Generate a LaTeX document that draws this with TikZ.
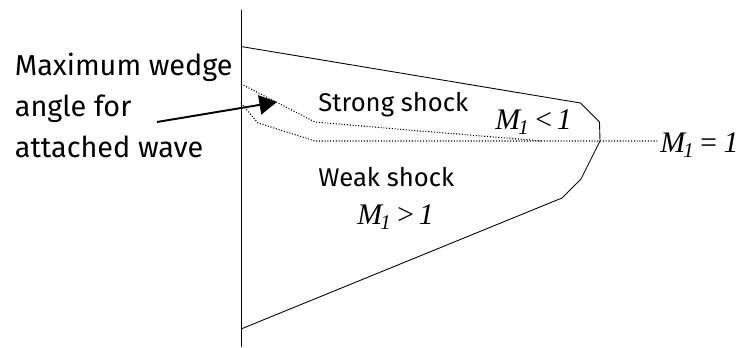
\documentclass[tikz,border=0pt]{standalone}
\usepackage{fontspec}
\setmainfont{Fira Sans}
\newfontfamily\mathserif{Liberation Serif}
\usetikzlibrary{arrows.meta,positioning}
\tikzset{
  bigtext/.style={anchor=base west,inner sep=0pt,font=\fontsize{16.4}{16.4}\selectfont},
  midtext/.style={anchor=base west,inner sep=0pt,font=\fontsize{14.6}{14.6}\selectfont},
  machtext/.style={anchor=base west,inner sep=0pt,font=\mathserif\itshape\fontsize{17}{17}\selectfont},
  sonicline/.style={densely dotted,line width=0.6pt},
  limitline/.style={line width=0.5pt}
}
\newcommand{\machlabel}[1]{M\textsubscript{\kern-1pt 1}\kern2pt#1}
\begin{document}
\begin{tikzpicture}[x=0.02cm,y=-0.02cm]
\useasboundingbox (0,0) rectangle (738,348);
% axis and limit curve
\coordinate (axistop) at (241,10);
\coordinate (axisbottom) at (241,347);
\draw[limitline] (axistop) -- (axisbottom);
\draw[limitline] (241,46.5) -- (580.5,103) -- (599.5,122) -- (600,141) -- (581,179) -- (562,198) -- (241,329);
% sonic lines
\draw[sonicline] (241,84) -- (315,122) -- (420,131) -- (543,141);
\draw[sonicline] (241,103) -- (258,123) -- (315,141) -- (657,141);
% labels
\node[bigtext] (wedgea) at (14.5,76) {Maximum wedge};
\node[bigtext] (wedgeb) at (14.5,117) {angle for};
\node[bigtext] (wedgec) at (14.5,158) {attached wave};
\node[midtext] (strong) at (318,112) {Strong shock};
\node[midtext] (weak) at (318,187) {Weak shock};
\node[machtext] (subsonic) at (495,130) {\machlabel{<\kern2pt 1}};
\node[machtext] (sonic) at (660,152.5) {\machlabel{=\kern3pt 1}};
\node[machtext] (supersonic) at (357,225) {\machlabel{>\kern2pt 1}};
% arrow
\coordinate (arrowstart) at (157,122);
\coordinate (arrowtip) at (277,102);
\draw[-{Triangle[length=10pt,width=11pt]},line width=1.1pt] (arrowstart) -- (arrowtip);
\end{tikzpicture}
\end{document}
